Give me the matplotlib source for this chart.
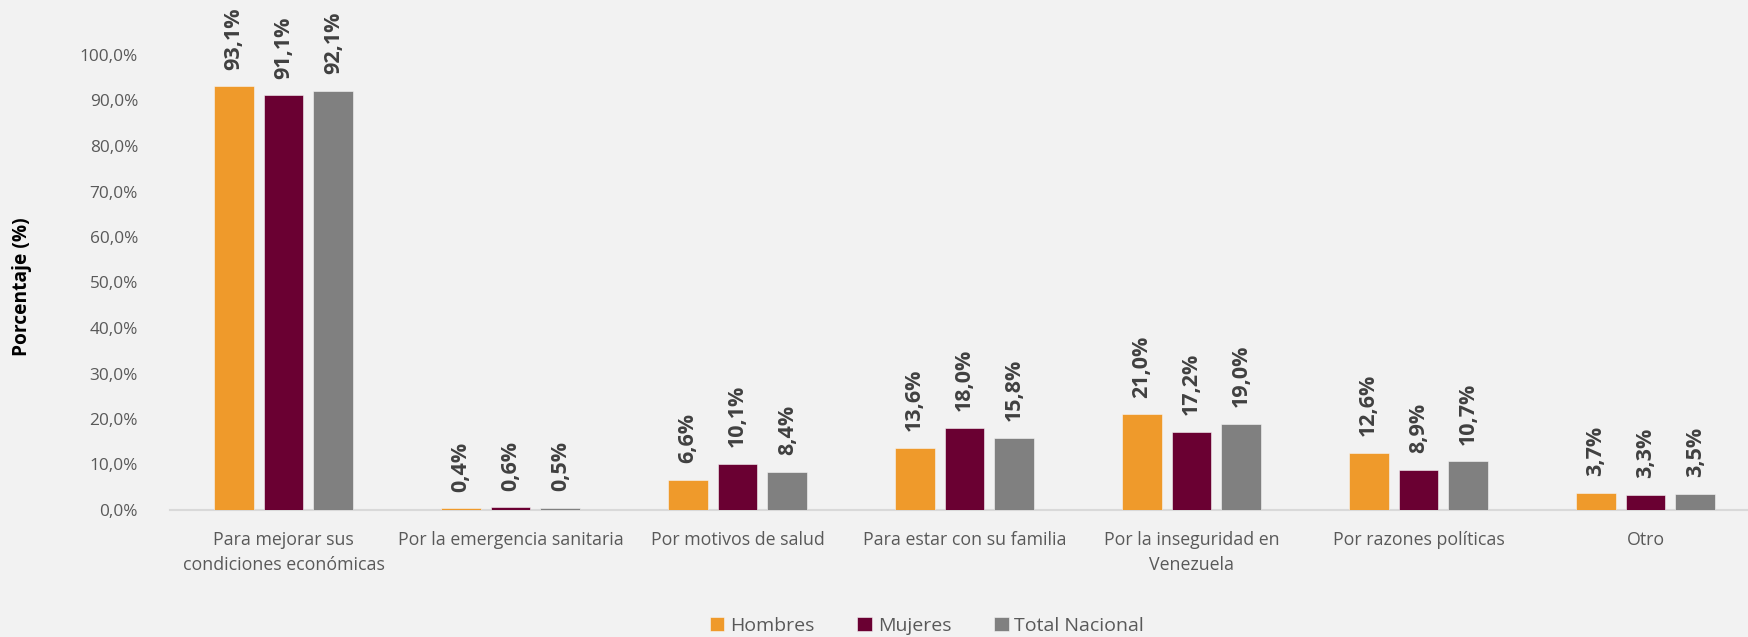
import matplotlib
matplotlib.use("Agg")
import matplotlib.pyplot as plt
import numpy as np

categories = ["Para mejorar sus\ncondiciones económicas", "Por la emergencia sanitaria",
              "Por motivos de salud", "Para estar con su familia",
              "Por la inseguridad en\nVenezuela", "Por razones políticas", "Otro"]
hombres = [93.1, 0.4, 6.6, 13.6, 21.0, 12.6, 3.7]
mujeres = [91.1, 0.6, 10.1, 18.0, 17.2, 8.9, 3.3]
total = [92.1, 0.5, 8.4, 15.8, 19.0, 10.7, 3.5]
series_names = ["Hombres", "Mujeres", "Total Nacional"]
colors = ["#EF9A2B", "#6A0032", "#808080"]
yticks = np.arange(0, 101, 10)

plt.rcParams['font.family'] = ['Open Sans', 'DejaVu Sans']
bg = "#F2F2F2"
fig = plt.figure(figsize=(17.48, 6.37), dpi=100, facecolor=bg)
W, H = 1748, 637
ax = fig.add_axes([170 / W, 1 - 510 / H, 1589 / W, 455 / H])
ax.set_facecolor(bg)

x = np.arange(len(categories))
bw = 0.176
step = 0.22
for i, (vals, name, c) in enumerate(zip([hombres, mujeres, total], series_names, colors)):
    pos = x + (i - 1) * step
    bars = ax.bar(pos, vals, width=bw, color=c, edgecolor="#F7F7F7", linewidth=0.4, label=name, zorder=3)
    for b, v in zip(bars, vals):
        ax.annotate(f"{v:.1f}%".replace(".", ","), (b.get_x() + b.get_width() / 2, v),
                    xytext=(0, 12), textcoords="offset points", rotation=90,
                    ha="center", va="bottom", fontsize=15.5, fontweight="bold",
                    color="#404040", annotation_clip=False)

ax.set_xlim(-0.5, len(categories) - 0.5)
ax.set_ylim(0, 100)
ax.set_yticks(yticks)
ax.set_yticklabels([f"{v:.1f}%".replace(".", ",") for v in yticks], fontsize=12.4, color="#595959")
ax.set_xticks(x)
ax.set_xticklabels(categories, fontsize=12.8, color="#595959", linespacing=1.5)
ax.tick_params(axis="y", length=0, pad=23)
ax.tick_params(axis="x", length=0, pad=15)
for s in ["top", "right", "left"]:
    ax.spines[s].set_visible(False)
ax.spines["bottom"].set_color("#D9D9D9")
ax.spines["bottom"].set_linewidth(1.5)
ax.spines["bottom"].set_zorder(2)

fig.text(22 / W, 1 - 287 / H, "Porcentaje (%)", rotation=90, ha="center", va="center",
         fontsize=13.8, fontweight="bold", color="black")

leg = fig.legend(loc="center", bbox_to_anchor=(927 / W, 1 - 626 / H), ncol=3, frameon=False,
                 fontsize=14, handlelength=0.75, handleheight=0.75, handletextpad=0.3,
                 columnspacing=2.2)
for t in leg.get_texts():
    t.set_color("#595959")

fig.savefig("out.png", dpi=100, facecolor=bg)
